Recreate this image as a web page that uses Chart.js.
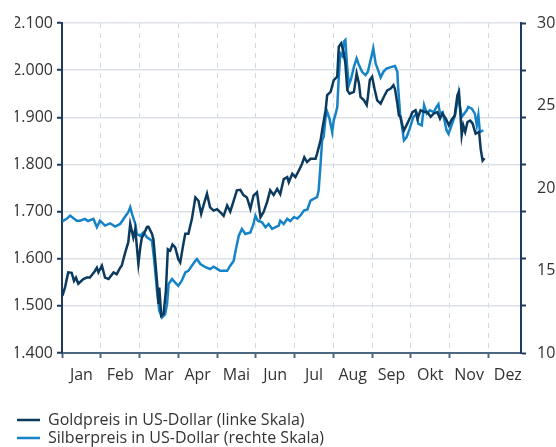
<!DOCTYPE html>
<html>
<head>
<meta charset="utf-8">
<script src="https://cdn.jsdelivr.net/npm/chart.js@4.4.1/dist/chart.umd.min.js"></script>
<style>
  html, body { margin: 0; padding: 0; background: #fff; }
  #wrap { width: 556px; height: 447px; }
</style>
</head>
<body>
<div id="wrap"><canvas id="chart"></canvas></div>
<script>
const monthLabels = ['Jan', 'Feb', 'Mar', 'Apr', 'Mai', 'Jun', 'Jul', 'Aug', 'Sep', 'Okt', 'Nov', 'Dez'];
const leftTicks = [1400, 1500, 1600, 1700, 1800, 1900, 2000, 2100];
const rightTicks = [10, 15, 20, 25, 30];

// x = position in months (0 = 1. Jan)
const goldMonths = [0.01, 0.08, 0.16, 0.25, 0.31, 0.36, 0.42, 0.55, 0.64, 0.72, 0.85, 0.9, 0.94, 1.03, 1.11, 1.2, 1.33, 1.41, 1.5, 1.54,
  1.63, 1.71, 1.76, 1.84, 1.89, 1.97, 2.02, 2.06, 2.1, 2.19, 2.23, 2.32, 2.36, 2.45, 2.49, 2.51, 2.56, 2.62, 2.68, 2.73,
  2.79, 2.85, 2.92, 3.0, 3.05, 3.13, 3.18, 3.26, 3.35, 3.44, 3.52, 3.59, 3.65, 3.74, 3.82, 3.91, 4.0, 4.08, 4.17, 4.26,
  4.34, 4.47, 4.51, 4.6, 4.68, 4.77, 4.86, 4.94, 5.03, 5.12, 5.2, 5.29, 5.37, 5.46, 5.55, 5.63, 5.72, 5.81, 5.85, 5.94,
  6.02, 6.11, 6.19, 6.25, 6.32, 6.41, 6.54, 6.58, 6.67, 6.71, 6.8, 6.84, 6.93, 7.01, 7.1, 7.14, 7.2, 7.26, 7.31, 7.36,
  7.42, 7.53, 7.6, 7.66, 7.7, 7.79, 7.86, 7.89, 7.94, 8.0, 8.06, 8.13, 8.22, 8.3, 8.39, 8.48, 8.55, 8.59, 8.65, 8.69,
  8.73, 8.78, 8.82, 8.91, 8.99, 9.04, 9.12, 9.17, 9.25, 9.34, 9.42, 9.51, 9.59, 9.68, 9.75, 9.81, 9.9, 9.98, 10.05, 10.13,
  10.2, 10.24, 10.28, 10.31, 10.35, 10.4, 10.46, 10.53, 10.59, 10.67, 10.76, 10.8, 10.85, 10.9];
const goldValues = [1521, 1540, 1571, 1570, 1553, 1560, 1547, 1557, 1560, 1560, 1574, 1581, 1571, 1585, 1560, 1557, 1571, 1567, 1581, 1585,
  1613, 1635, 1674, 1645, 1663, 1589, 1624, 1645, 1650, 1667, 1668, 1653, 1640, 1553, 1504, 1539, 1479, 1483, 1532, 1620,
  1617, 1630, 1624, 1599, 1592, 1631, 1653, 1653, 1684, 1730, 1723, 1695, 1713, 1738, 1709, 1702, 1705, 1699, 1691, 1713,
  1700, 1734, 1745, 1746, 1735, 1730, 1706, 1734, 1741, 1688, 1699, 1720, 1745, 1735, 1748, 1737, 1769, 1773, 1762, 1780,
  1773, 1787, 1801, 1815, 1805, 1812, 1812, 1823, 1851, 1872, 1915, 1947, 1954, 1979, 1986, 2050, 2057, 2040, 2014, 1957,
  1950, 1954, 1993, 1972, 1943, 1936, 1926, 1943, 1979, 1986, 1961, 1936, 1929, 1943, 1957, 1961, 1968, 1960, 1929, 1904,
  1901, 1883, 1872, 1887, 1901, 1911, 1915, 1897, 1915, 1911, 1911, 1901, 1908, 1911, 1897, 1908, 1897, 1883, 1895, 1904,
  1947, 1954, 1904, 1862, 1883, 1869, 1890, 1893, 1887, 1865, 1869, 1833, 1808, 1813];

const silverMonths = [0.01, 0.12, 0.21, 0.28, 0.38, 0.47, 0.59, 0.67, 0.81, 0.9, 0.98, 1.11, 1.24, 1.37, 1.5, 1.63, 1.71, 1.76, 1.81, 1.89,
  1.93, 2.02, 2.1, 2.19, 2.32, 2.38, 2.45, 2.51, 2.58, 2.66, 2.71, 2.75, 2.84, 2.92, 3.0, 3.09, 3.18, 3.26, 3.35, 3.44,
  3.48, 3.57, 3.7, 3.82, 3.91, 4.0, 4.08, 4.26, 4.34, 4.43, 4.47, 4.56, 4.64, 4.73, 4.86, 4.94, 4.99, 5.05, 5.16, 5.25,
  5.33, 5.42, 5.5, 5.59, 5.63, 5.72, 5.81, 5.89, 5.98, 6.07, 6.15, 6.24, 6.33, 6.41, 6.49, 6.58, 6.62, 6.67, 6.71, 6.75,
  6.8, 6.84, 6.9, 6.97, 7.01, 7.05, 7.1, 7.14, 7.18, 7.23, 7.27, 7.31, 7.35, 7.4, 7.46, 7.53, 7.6, 7.66, 7.74, 7.83,
  7.89, 7.96, 8.03, 8.09, 8.17, 8.22, 8.29, 8.37, 8.5, 8.59, 8.65, 8.67, 8.72, 8.76, 8.82, 8.89, 8.97, 9.06, 9.15, 9.19,
  9.28, 9.34, 9.41, 9.49, 9.59, 9.66, 9.71, 9.75, 9.82, 9.92, 9.97, 10.05, 10.14, 10.23, 10.26, 10.31, 10.44, 10.48, 10.57, 10.65,
  10.7, 10.74, 10.78, 10.87];
const silverValues = [17.98, 18.13, 18.33, 18.2, 18.02, 18.02, 18.13, 18.0, 18.13, 17.62, 18.02, 17.72, 17.86, 17.66, 17.82, 18.27, 18.53, 18.83, 18.4, 17.82,
  17.21, 17.11, 17.31, 17.01, 16.81, 15.59, 13.77, 12.55, 12.15, 12.35, 12.96, 14.18, 14.48, 14.27, 14.07, 14.38, 14.88, 14.98, 15.29, 15.59,
  15.7, 15.39, 15.2, 15.09, 15.23, 15.1, 14.98, 14.98, 15.29, 15.59, 16.1, 17.11, 17.52, 17.21, 17.31, 17.82, 18.33, 18.02, 17.92, 17.62,
  17.82, 17.52, 17.62, 17.72, 18.02, 17.82, 18.13, 18.0, 18.23, 18.15, 18.33, 18.63, 18.7, 19.24, 19.34, 19.44, 19.85, 21.47, 22.89, 23.09,
  24.3, 24.61, 24.2, 23.39, 24.1, 24.41, 24.91, 26.74, 28.16, 28.0, 28.87, 28.97, 27.5, 26.23, 26.64, 27.34, 27.85, 27.45, 27.04, 26.84,
  27.04, 27.75, 28.46, 27.55, 27.04, 26.7, 27.04, 27.24, 27.34, 27.39, 27.04, 26.13, 24.51, 23.9, 22.89, 23.09, 23.6, 24.3, 24.51, 23.9,
  23.8, 25.02, 24.51, 24.71, 24.6, 24.91, 25.08, 24.51, 24.6, 23.5, 23.29, 23.8, 24.41, 25.72, 25.0, 24.3, 24.71, 24.91, 24.81, 24.51,
  23.8, 24.41, 23.39, 23.5];

const goldColor = '#0b3a5e';
const silverColor = '#1683c8';
const gridColor = '#dde2e8';
const textColor = '#333333';
const fontFamily = "'Open Sans', 'Noto Sans', sans-serif";

function toPoints(xs, ys) {
    return xs.map((x, i) => ({ x: x, y: ys[i] }));
}

function formatDe(v) {
    return String(v).replace(/\B(?=(\d{3})+(?!\d))/g, '.');
}

// tick marks of the right axis sit on the left grid lines, labels at 10/15/20/25/30
const rightMarks = leftTicks.map(v => 10 + (v - 1400) / 700 * 20);

new Chart(document.getElementById('chart'), {
    type: 'line',
    data: {
        datasets: [{
            label: 'Goldpreis in US-Dollar (linke Skala)',
            data: toPoints(goldMonths, goldValues),
            borderColor: goldColor,
            backgroundColor: goldColor,
            borderWidth: 2.5,
            pointRadius: 0,
            tension: 0,
            yAxisID: 'y',
            order: 1
        }, {
            label: 'Silberpreis in US-Dollar (rechte Skala)',
            data: toPoints(silverMonths, silverValues),
            borderColor: silverColor,
            backgroundColor: silverColor,
            borderWidth: 2.5,
            pointRadius: 0,
            tension: 0,
            yAxisID: 'y1',
            order: 2
        }]
    },
    options: {
        responsive: true,
        maintainAspectRatio: false,
        animation: false,
        layout: {
            padding: { left: 15, top: 23, right: 0, bottom: -9 }
        },
        scales: {
            x: {
                type: 'linear',
                min: 0,
                max: 11.84,
                afterBuildTicks: (scale) => {
                    const t = [];
                    for (let i = 0; i < 12; i++) {
                        t.push({ value: i });
                        t.push({ value: i + 0.5 });
                    }
                    scale.ticks = t;
                },
                ticks: {
                    autoSkip: false,
                    maxRotation: 0,
                    padding: 8,
                    color: textColor,
                    font: { family: fontFamily, size: 16 },
                    callback: (v) => (v % 1 === 0.5 ? monthLabels[Math.floor(v)] : '')
                },
                grid: {
                    color: (ctx) => (ctx.tick && ctx.tick.value % 1 === 0 ? '#d3d9e0' : 'rgba(0,0,0,0)'),
                    tickColor: (ctx) => (ctx.tick && ctx.tick.value % 1 === 0 ? '#4f6680' : 'rgba(0,0,0,0)'),
                    lineWidth: 1,
                    tickLength: 5,
                    tickWidth: 2
                },
                border: { color: '#4f6680', width: 2, dash: [5, 5] },
                afterFit: (scale) => { scale.height = 57; }
            },
            y: {
                position: 'left',
                min: 1400,
                max: 2100,
                afterBuildTicks: (scale) => { scale.ticks = leftTicks.map(v => ({ value: v })); },
                ticks: {
                    padding: 4,
                    color: textColor,
                    font: { family: fontFamily, size: 16 },
                    callback: (v) => formatDe(v)
                },
                grid: {
                    color: gridColor,
                    lineWidth: 1.5,
                    tickColor: '#1f3b5c',
                    tickLength: 5,
                    tickWidth: 2
                },
                border: { color: '#1f3b5c', width: 2 },
                afterFit: (scale) => { scale.width = 47; }
            },
            y1: {
                position: 'right',
                min: 10,
                max: 30,
                afterBuildTicks: (scale) => {
                    const t = rightMarks.map(v => ({ value: v }));
                    rightTicks.forEach(v => {
                        if (!rightMarks.some(m => Math.abs(m - v) < 0.01)) t.push({ value: v });
                    });
                    t.sort((a, b) => a.value - b.value);
                    scale.ticks = t;
                },
                ticks: {
                    padding: 11,
                    color: textColor,
                    font: { family: fontFamily, size: 16 },
                    callback: (v) => (rightTicks.some(r => Math.abs(r - v) < 0.01) ? String(Math.round(v)) : '')
                },
                grid: {
                    drawOnChartArea: false,
                    tickColor: (ctx) => (ctx.tick && rightMarks.some(m => Math.abs(m - ctx.tick.value) < 0.01) ? '#1f3b5c' : 'rgba(0,0,0,0)'),
                    tickLength: 5,
                    tickWidth: 2
                },
                border: { color: '#1f3b5c', width: 2 },
                afterFit: (scale) => { scale.width = 35; }
            }
        },
        plugins: {
            legend: {
                position: 'bottom',
                align: 'start',
                labels: {
                    usePointStyle: true,
                    pointStyle: 'line',
                    pointStyleWidth: 23,
                    boxHeight: 16,
                    padding: 2,
                    color: textColor,
                    font: { family: fontFamily, size: 16 }
                }
            },
            tooltip: { enabled: false }
        }
    }
});
</script>
</body>
</html>
